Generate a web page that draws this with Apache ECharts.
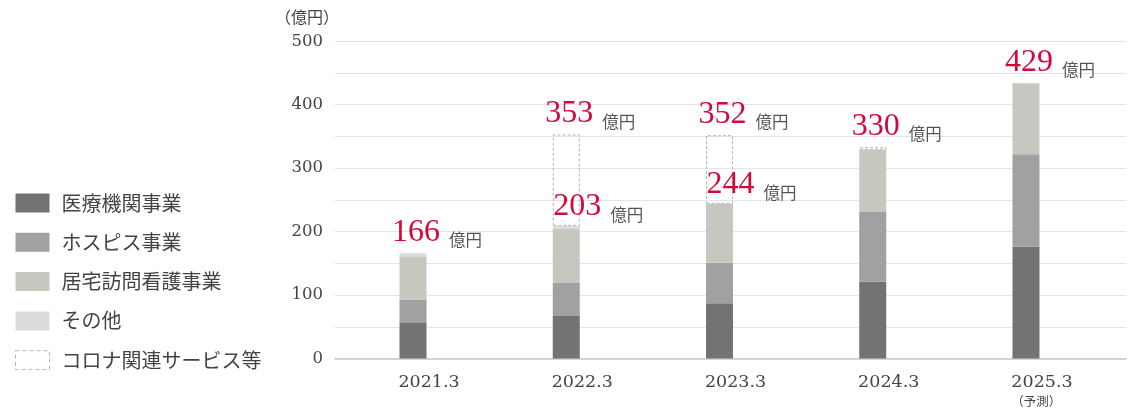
<!DOCTYPE html>
<html>
<head>
<meta charset="utf-8">
<script src="https://cdn.jsdelivr.net/npm/echarts@6/dist/echarts.min.js"></script>
<style>
html,body{margin:0;padding:0;background:#fff;}
#chart{width:1140px;height:411px;}
</style>
</head>
<body>
<div id="chart"></div>
<script>
// ---- data ----
const categories = ['2021.3', '2022.3', '2023.3', '2024.3', '2025.3'];
const categoryNotes = ['', '', '', '', '（予測）'];
const seriesNames = ['医療機関事業', 'ホスピス事業', '居宅訪問看護事業', 'その他', 'コロナ関連サービス等'];
const medical = [57, 67, 87, 121, 176];
const hospice = [36, 53, 64, 110, 146];
const homeNursing = [68, 84, 93, 98, 112];
const other = [5, 5, 0, 0, 0];
const corona = [null, 144, 108, 4, null];
const totalLabels = [166, 353, 352, 330, 429];
const subtotalLabels = [null, 203, 244, null, null];
const yTicks = [0, 100, 200, 300, 400, 500];

// ---- styles ----
const colors = ['#737373', '#a0a1a0', '#c7c7bf', '#dcdcdc', 'rgba(0,0,0,0)'];
const coronaStyle = { color: 'rgba(0,0,0,0)', borderColor: '#b4b4b4', borderWidth: 1, borderType: [3, 2] };
const labelRich = {
  n: { fontFamily: 'Liberation Serif', fontSize: 32, lineHeight: 32, color: '#d20a3c' },
  u: { fontFamily: 'Noto Sans CJK JP', fontSize: 16.5, lineHeight: 16, color: '#555', padding: [0, 0, 0, 9], verticalAlign: 'bottom' }
};
function makeLabel(value, isSub) {
  return {
    show: true,
    position: 'top',
    distance: isSub ? 3 : 5,
    offset: [isSub ? 32 : 24, 0],
    formatter: '{n|' + value + '}{u|億円}',
    rich: labelRich
  };
}
const allData = [medical, hospice, homeNursing, other, corona];

function topIndex(i, includeCorona) {
  let top = -1;
  const last = includeCorona ? allData.length - 1 : allData.length - 2;
  for (let s = 0; s <= last; s++) {
    const v = allData[s][i];
    if (v !== null && v !== undefined && v > 0) top = s;
  }
  return top;
}

const barSeries = allData.map((arr, s) => {
  const data = arr.map((v, i) => {
    const item = { value: v === null ? '-' : v };
    if (topIndex(i, true) === s) item.label = makeLabel(totalLabels[i], false);
    else if (subtotalLabels[i] !== null && topIndex(i, false) === s) item.label = makeLabel(subtotalLabels[i], true);
    return item;
  });
  return {
    name: seriesNames[s],
    type: 'bar',
    stack: 'total',
    xAxisIndex: 0,
    yAxisIndex: 0,
    barWidth: 27,
    itemStyle: s === 4 ? coronaStyle : { color: colors[s] },
    emphasis: { disabled: true },
    data: data
  };
});

const legendData = seriesNames.map((n, s) => {
  const d = { name: n, icon: 'rect' };
  if (s === 4) d.itemStyle = { color: 'rgba(0,0,0,0)', borderColor: '#b8b8b8', borderWidth: 1, borderType: [4, 3] };
  return d;
});

const chart = echarts.init(document.getElementById('chart'), null, { renderer: 'canvas' });
chart.setOption({
  animation: false,
  backgroundColor: '#fff',
  title: {
    text: '（億円）',
    left: 270,
    top: 4,
    textStyle: { fontFamily: 'Noto Sans CJK JP', fontSize: 16, fontWeight: 'normal', color: '#444' }
  },
  legend: {
    orient: 'vertical',
    left: 15,
    top: 193,
    padding: 0,
    itemWidth: 34,
    itemHeight: 19,
    itemGap: 19.3,
    selectedMode: false,
    data: legendData,
    textStyle: { fontFamily: 'Noto Sans CJK JP', fontSize: 20, lineHeight: 19, color: '#444', padding: [0, 0, 0, 7] }
  },
  grid: [
    { left: 336.4, right: 37.4, top: 41.3, bottom: 52.5 },
    { left: 335, right: 14, top: 41.3, bottom: 52.5 }
  ],
  xAxis: [
    {
      type: 'category',
      gridIndex: 0,
      data: categories,
      axisLine: { show: false },
      axisTick: { show: false },
      axisLabel: {
        margin: 14,
        padding: [0, 0, 0, 32],
        formatter: function (v, idx) {
          const note = categoryNotes[idx];
          return note ? '{a|' + v + '}\n{b|' + note + '}' : '{a|' + v + '}';
        },
        rich: {
          a: { fontFamily: 'DejaVu Serif', fontSize: 17.5, lineHeight: 19, color: '#444' },
          b: { fontFamily: 'Noto Sans CJK JP', fontSize: 12.5, lineHeight: 19, color: '#444', align: 'left' }
        }
      }
    },
    {
      type: 'value',
      gridIndex: 1,
      min: 0,
      max: 1,
      axisLabel: { show: false },
      axisTick: { show: false },
      splitLine: { show: false },
      axisLine: { show: true, lineStyle: { color: '#c8c8c8', width: 1.5 } }
    }
  ],
  yAxis: [
    {
      type: 'value',
      gridIndex: 0,
      min: 0,
      max: 500,
      interval: 50,
      axisLabel: { show: false },
      axisLine: { show: false },
      axisTick: { show: false },
      splitLine: { show: false }
    },
    {
      type: 'value',
      gridIndex: 1,
      min: 0,
      max: 500,
      interval: 50,
      axisLine: { show: false },
      axisTick: { show: false },
      splitLine: { show: true, lineStyle: { color: '#e4e4e4', width: 1 } },
      axisLabel: {
        margin: 12,
        fontFamily: 'DejaVu Serif',
        fontSize: 16.5,
        color: '#444',
        formatter: function (v) { return yTicks.indexOf(v) >= 0 ? String(v) : ''; }
      }
    }
  ],
  series: barSeries
});
</script>
</body>
</html>
